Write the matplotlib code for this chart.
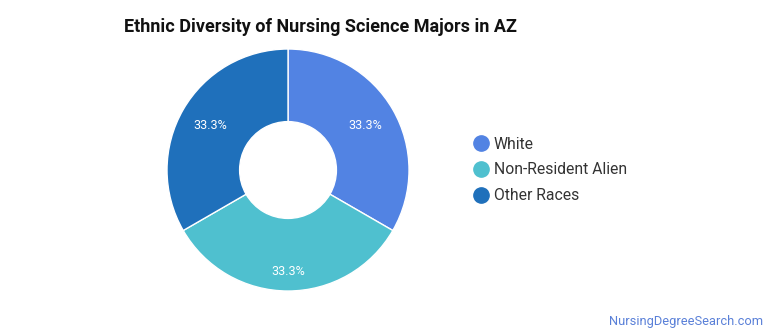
import numpy as np
import matplotlib.pyplot as plt
from matplotlib.lines import Line2D

plt.rcParams['font.family'] = ['Roboto', 'DejaVu Sans']

labels = ['White', 'Non-Resident Alien', 'Other Races']
values = [33.3, 33.3, 33.3]
colors = ['#5283e3', '#4fc0cf', '#1f70bb']

fig = plt.figure(figsize=(7.7, 3.35), dpi=100)
ax = fig.add_axes([0.2169, 0.1313, 0.3143, 0.7224])

wedges, texts, autotexts = ax.pie(
    values, colors=colors, startangle=90, counterclock=False,
    autopct='%1.1f%%', pctdistance=0.74,
    wedgeprops=dict(width=0.6, edgecolor='white', linewidth=1),
    textprops=dict(color='white', fontsize=9))

# bottom label sits further out in the original
for w, t in zip(wedges, autotexts):
    mid = np.deg2rad((w.theta1 + w.theta2) / 2)
    if np.sin(mid) < -0.5:
        t.set_position((0.84 * np.cos(mid), 0.84 * np.sin(mid)))

ax.set_xlim(-1, 1)
ax.set_ylim(-1, 1)
ax.set_aspect('equal')

fig.text(124 / 770, 1 - 27 / 335, 'Ethnic Diversity of Nursing Science Majors in AZ',
         fontsize=13, fontweight='bold', color='#111111', va='center', ha='left')

handles = [Line2D([0], [0], marker='o', linestyle='', markersize=11,
                  markerfacecolor=c, markeredgecolor=c) for c in colors]
fig.legend(handles, labels, loc='center left', bbox_to_anchor=(454 / 770, 1 - 170 / 335),
           frameon=False, fontsize=11.3, handletextpad=0.05, labelspacing=0.68,
           handlelength=1.6, labelcolor='#333333')

fig.text(763 / 770, 1 - 322 / 335, 'NursingDegreeSearch.com', fontsize=9.3,
         color='#5a80d8', ha='right', va='center')

fig.savefig('out.png', dpi=100)
